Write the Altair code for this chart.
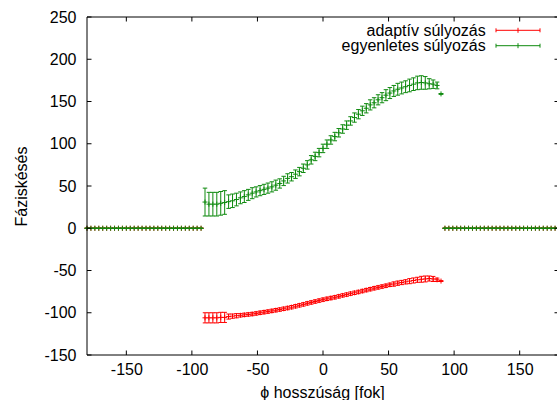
import altair as alt
import pandas as pd

# ---------------- data ----------------
series_names = ["adaptív súlyozás", "egyenletes súlyozás"]
series_colors = ["#ff0000", "#0f8a0f"]

x_left = list(range(-180, -90, 3))      # zero region, left
x_core = list(range(-90, 91, 3))        # -90 .. 90
x_right = list(range(93, 181, 3))       # zero region, right

red_y = [-106, -106, -106, -106, -105.5, -105.5, -104.5, -104, -103.5, -103,
         -102.5, -102, -101.5, -100.8, -100, -99.3, -98.6, -97.8, -97, -96.2,
         -95.3, -94.4, -93.4, -92.3, -91.2, -90.1, -88.9, -87.8, -86.7, -85.6,
         -84.5, -83.5, -82.6, -81.7, -80.6, -79.5, -78.5, -77.4, -76.4, -75.4,
         -74.3, -73.2, -72.1, -71, -70, -69, -68, -66.9, -66, -65,
         -64.2, -63.4, -62.6, -61.8, -61, -60.4, -60, -59.5, -60, -61,
         -62.5]
red_err = [6, 6, 6, 6, 6, 6, 3, 2.5, 2.5, 2,
           2, 2, 2, 2, 2, 2, 2, 2, 2, 2,
           2, 2, 2, 2, 2, 2, 2, 2, 2, 2,
           2, 2, 2, 2, 2, 2, 2, 2, 2, 2,
           2, 2, 2, 2, 2, 2, 2, 2, 2.5, 2.5,
           2.5, 2.5, 3, 3, 3, 3.5, 3.5, 3, 3, 2,
           0.5]

green_y = [31, 28.5, 28.5, 28.5, 29.5, 30.5, 31.5, 32.5, 34, 36,
           37.5, 39.5, 41.5, 43, 44.5, 46, 47.5, 49, 51, 53,
           56, 59, 61, 64, 67, 71, 75, 81, 85, 89.5,
           94.5, 99.5, 104.5, 108.5, 113, 117.5, 122, 127, 131, 135,
           139, 142, 146, 148.5, 152, 154.5, 157.5, 160, 162.5, 164.5,
           166, 167.5, 169, 170.5, 172, 172.5, 172, 171, 170.5, 169,
           159]
green_err = [16.5, 14, 14, 14, 14, 14, 8, 8, 7.5, 7,
             7, 6.5, 6.5, 6, 6, 6, 6, 6, 6, 5.5,
             5.5, 5.5, 5, 5, 5, 5, 5, 5, 5, 5,
             5, 5, 5, 5, 5, 5, 5, 5, 5.5, 5.5,
             5.5, 5.5, 6, 6, 6, 6, 6.5, 6.5, 6.5, 7,
             7, 7, 7.5, 7.5, 8, 8, 7.5, 6, 5, 4,
             0.5]

x_tick_values = [-150, -100, -50, 0, 50, 100, 150]
y_tick_values = [-150, -100, -50, 0, 50, 100, 150, 200, 250]

x_title = "ϕ hosszúság [fok]"
y_title = "Fáziskésés"


def build_df(name, ys, errs):
    rows = []
    for x in x_left:
        rows.append({"series": name, "x": x, "y": 0.0, "lo": 0.0, "hi": 0.0})
    for x, y, e in zip(x_core, ys, errs):
        rows.append({"series": name, "x": x, "y": y, "lo": y - e, "hi": y + e})
    for x in x_right:
        rows.append({"series": name, "x": x, "y": 0.0, "lo": 0.0, "hi": 0.0})
    return pd.DataFrame(rows)


red_df = build_df(series_names[0], red_y, red_err)
green_df = build_df(series_names[1], green_y, green_err)

# ---------------- layout ----------------
W, H = 470, 338
FONT = "Liberation Sans"
PLUS = "M-1,0L1,0M0,-1L0,1"

xscale = alt.Scale(domain=[-180, 178.47], nice=False, zero=False)
yscale = alt.Scale(domain=[-150, 250], nice=False, zero=False)
xaxis = alt.Axis(values=x_tick_values, labelExpr="toString(datum.value)",
                 ticks=False, tickSize=0,
                 domain=False, grid=False, labelPadding=6.5, labelFlush=False,
                 labelOverlap=False, titleY=42, titleBaseline="alphabetic")
yaxis = alt.Axis(values=y_tick_values, labelExpr="toString(datum.value)",
                 ticks=False, tickSize=0,
                 domain=False, grid=False, labelPadding=11, labelFlush=False,
                 labelOverlap=False, titleX=-61, titleY=H / 2, titleAngle=270,
                 titleAlign="center", titleBaseline="alphabetic")


def X(field="x:Q"):
    return alt.X(field, scale=xscale, axis=xaxis, title=x_title)


def Y(field):
    return alt.Y(field, scale=yscale, axis=yaxis, title=y_title)


def series_layers(df, color):
    base = alt.Chart(df)
    bars = base.mark_rule(color=color, strokeWidth=1).encode(
        x=X(), y=Y("lo:Q"), y2="hi:Q")
    cap_lo = base.mark_tick(color=color, orient="horizontal", size=4.5,
                            thickness=1, opacity=1).encode(x=X(), y=Y("lo:Q"))
    cap_hi = base.mark_tick(color=color, orient="horizontal", size=4.5,
                            thickness=1, opacity=1).encode(x=X(), y=Y("hi:Q"))
    pts = base.mark_point(shape=PLUS, size=25, filled=False, color=color,
                          strokeWidth=1, opacity=1).encode(x=X(), y=Y("y:Q"))
    return [bars, cap_lo, cap_hi, pts]


# tick marks (inward, mirrored)
xt = pd.DataFrame({"x": x_tick_values})
yt = pd.DataFrame({"y": y_tick_values})
tick_len = 4.5
tick_layers = [
    alt.Chart(xt).mark_rule(color="black", strokeWidth=1).encode(
        x=X(), y=alt.value(H), y2=alt.value(H - tick_len)),
    alt.Chart(xt).mark_rule(color="black", strokeWidth=1).encode(
        x=X(), y=alt.value(0), y2=alt.value(tick_len)),
    alt.Chart(yt).mark_rule(color="black", strokeWidth=1).encode(
        y=Y("y:Q"), x=alt.value(0), x2=alt.value(tick_len)),
    alt.Chart(yt).mark_rule(color="black", strokeWidth=1).encode(
        y=Y("y:Q"), x=alt.value(472), x2=alt.value(472 - tick_len)),
]

# border (left, top, bottom; right edge lies just outside the window)
bdf = pd.DataFrame({"k": [0]})
border_layers = [
    alt.Chart(bdf).mark_rule(color="black", strokeWidth=1).encode(
        x=alt.value(0), y=alt.value(0), y2=alt.value(H)),
    alt.Chart(bdf).mark_rule(color="black", strokeWidth=1).encode(
        x=alt.value(0), x2=alt.value(472), y=alt.value(0)),
    alt.Chart(bdf).mark_rule(color="black", strokeWidth=1).encode(
        x=alt.value(0), x2=alt.value(472), y=alt.value(H)),
]

# legend (gnuplot style, top right)
legend_layers = []
leg_y = [13.3, 28.7]
leg_text_y = [19, 34.4]
lx0, lx1, lxm = 409, 453, 431
for i, (name, color) in enumerate(zip(series_names, series_colors)):
    ldf = pd.DataFrame({"name": [name]})
    yy = leg_y[i]
    legend_layers += [
        alt.Chart(ldf).mark_text(align="right", baseline="alphabetic",
                                 font=FONT, fontSize=16, color="black").encode(
            text="name:N", x=alt.value(398.7), y=alt.value(leg_text_y[i])),
        alt.Chart(ldf).mark_rule(color=color, strokeWidth=1).encode(
            x=alt.value(lx0), x2=alt.value(lx1), y=alt.value(yy)),
        alt.Chart(ldf).mark_rule(color=color, strokeWidth=1).encode(
            x=alt.value(lx0), y=alt.value(yy - 2), y2=alt.value(yy + 2)),
        alt.Chart(ldf).mark_rule(color=color, strokeWidth=1).encode(
            x=alt.value(lx1), y=alt.value(yy - 2), y2=alt.value(yy + 2)),
        alt.Chart(ldf).mark_rule(color=color, strokeWidth=1).encode(
            x=alt.value(lxm), y=alt.value(yy - 2.5), y2=alt.value(yy + 2.5)),
    ]

layers = (series_layers(red_df, series_colors[0])
          + series_layers(green_df, series_colors[1])
          + border_layers + tick_layers + legend_layers)

chart = alt.layer(*layers).properties(
    width=W, height=H,
    autosize=alt.AutoSizeParams(type="none"),
    padding={"left": 87, "top": 17, "right": 0, "bottom": 45},
    background="white",
).configure_view(stroke=None).configure_axis(
    labelFont=FONT, labelFontSize=16, labelColor="black",
    titleFont=FONT, titleFontSize=16, titleFontWeight="normal", titleColor="black",
)

chart.save("out.html", embed_options={"renderer": "svg", "actions": False})
